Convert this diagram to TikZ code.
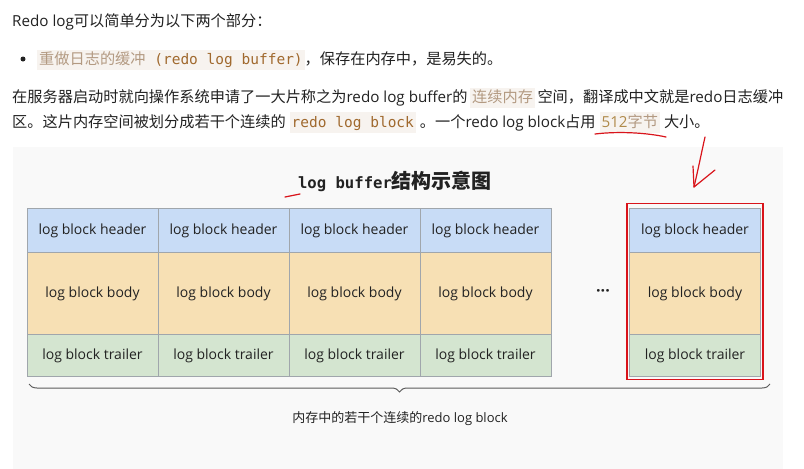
\documentclass[tikz,border=0pt]{standalone}
\usepackage{fontspec}
\setmainfont{Open Sans}
\setmonofont{DejaVu Sans Mono}
\newfontfamily\cjk{Noto Sans CJK SC}
\usetikzlibrary{decorations.pathreplacing}
\definecolor{txt}{HTML}{222222}
\definecolor{codebg}{HTML}{F7F3EF}
\definecolor{codefg}{HTML}{A0692E}
\definecolor{codecjk}{HTML}{B39A82}
\definecolor{numfg}{HTML}{B08A4A}
\definecolor{diagbg}{HTML}{F9F9F9}
\definecolor{hdr}{HTML}{C8DCF6}
\definecolor{bdy}{HTML}{F7E0B4}
\definecolor{trl}{HTML}{D4E5D0}
\definecolor{cellline}{HTML}{A0A6AC}
\definecolor{penred}{HTML}{D9141B}
\definecolor{bracec}{HTML}{5C5C5C}
\newcommand{\codespan}[1]{\begingroup\setlength{\fboxsep}{2pt}\colorbox{codebg}{\vphantom{\cjk 字Ag}#1}\endgroup}
\tikzset{
  para/.style={anchor=base west, inner sep=0pt, text=txt, font=\fontsize{15.2}{18}\selectfont},
  cell/.style={draw=cellline, line width=0.8pt, minimum width=131pt, inner sep=0pt, text height=10pt, text depth=1pt, text=txt, font=\fontsize{14}{16}\selectfont},
  hdrcell/.style={cell, fill=hdr, minimum height=44pt},
  bdycell/.style={cell, fill=bdy, minimum height=82pt},
  trlcell/.style={cell, fill=trl, minimum height=42pt},
  hand/.style={draw=penred, line width=1.2pt, line cap=round, line join=round},
}
\begin{document}
\begin{tikzpicture}[x=1pt,y=-1pt]
\useasboundingbox (0,0) rectangle (804,469);
\fill[white] (0,0) rectangle (804,469);
\fill[diagbg] (13,147) rectangle (783,469);

% text paragraph
\node[para] (l1) at (12,26.5) {Redo log{\cjk 可以简单分为以下两个部分：}};
\fill[txt] (23,59) circle (2.5pt);
\node[para] (l2) at (37,64.5) {\codespan{{\cjk\color{codecjk}重做日志的缓冲}\texttt{\fontsize{14.5}{16}\selectfont\color{codefg}\ (redo log buffer)}}{\cjk ，保存在内存中，是易失的。}};
\node[para] (l3) at (12,102.5) {{\cjk 在服务器启动时就向操作系统申请了一大片称之为}redo log buffer{\cjk 的}\,\codespan{\cjk\color{codecjk}连续内存}\,{\cjk 空间，翻译成中文就是}redo{\cjk 日志缓冲}};
\node[para] (l4) at (12,127) {{\cjk 区。这片内存空间被划分成若干个连续的}\ \codespan{\texttt{\fontsize{14.5}{16}\selectfont\color{codefg}redo log block}}\ {\cjk 。一个}redo log block{\cjk 占用}\ \codespan{\color{numfg}512{\cjk\color{codecjk}字节}}\ {\cjk 大小。}};

% title
\node[text=txt, inner sep=0pt] (title) at (395,181) {{\ttfamily\bfseries\fontsize{15.6}{18}\selectfont log buffer}{\cjk\bfseries\fontsize{20}{22}\selectfont 结构示意图}};

% blocks
\foreach \i/\x in {1/92.5,2/223.5,3/354.5,4/485.5,R/695}{
  \node[hdrcell] (h\i) at (\x,230) {log block header};
  \node[bdycell] (b\i) at (\x,293) {log block body};
  \node[trlcell] (t\i) at (\x,355) {log block trailer};
}
\node[text=txt, inner sep=0pt] (dots) at (603,293) {\bfseries\fontsize{16}{16}\selectfont ···};
\draw[penred, line width=1.5pt] ([xshift=-2pt,yshift=4pt]hR.north west) rectangle ([xshift=2pt,yshift=-3pt]tR.south east);

% brace and caption
\coordinate (bl) at (29,384);
\coordinate (br) at (770,384);
\draw[bracec, line width=1pt, decorate, decoration={brace, mirror, amplitude=8pt}] (bl) -- (br);
\node[text=txt, inner sep=0pt, font=\fontsize{13}{16}\selectfont] (cap) at (400,419) {{\cjk 内存中的若干个连续的}redo log block};

% hand-drawn marks
\draw[hand] (595,134) .. controls (620,131) and (648,133) .. (666,137);
\draw[hand] (705,137) .. controls (701,155) and (698,170) .. (694,187);
\draw[hand] (693,166) -- (694,187) -- (715,170);
\draw[hand] (285,197) -- (300,194);
\end{tikzpicture}
\end{document}
